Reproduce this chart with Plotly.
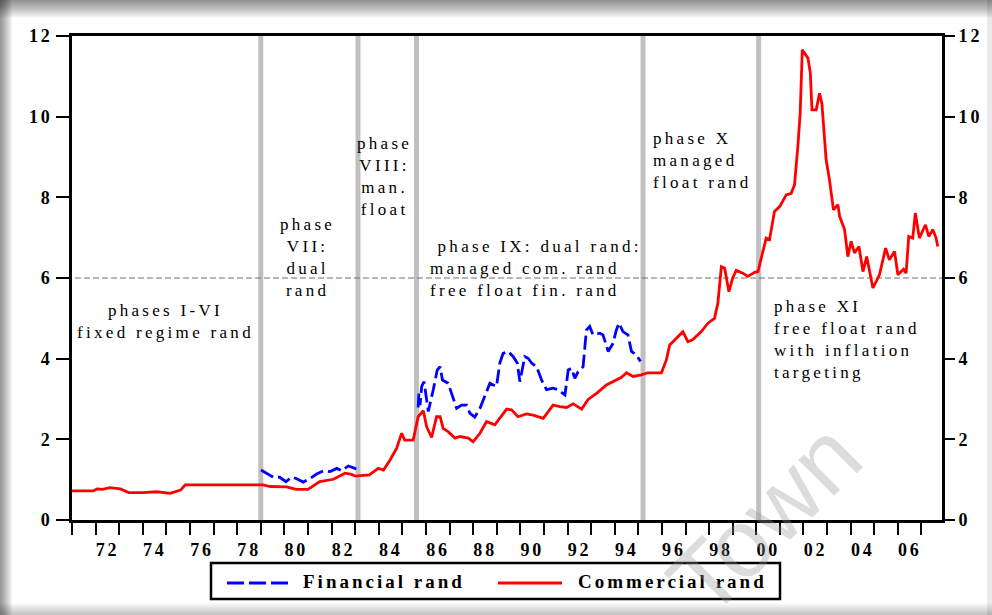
import plotly.graph_objects as go

# ---------------- data ----------------
comm_year = [1971.0, 1971.9, 1972.06, 1972.3, 1972.6, 1973.05, 1973.4, 1974.0, 1974.6, 1975.16,
             1975.6, 1975.8, 1979.1, 1979.4, 1980.1, 1980.5, 1981.0, 1981.3, 1981.5, 1982.08,
             1982.57, 1982.85, 1983.0, 1983.6, 1983.98, 1984.2, 1984.48, 1984.76, 1984.97, 1985.1,
             1985.46, 1985.67, 1985.89, 1986.03, 1986.24, 1986.45, 1986.6, 1986.73, 1986.94, 1987.23,
             1987.44, 1987.8, 1988.0, 1988.29, 1988.57, 1988.92, 1989.13, 1989.42, 1989.63, 1989.9,
             1990.26, 1990.54, 1990.97, 1991.39, 1991.67, 1991.96, 1992.24, 1992.6, 1992.87, 1993.23,
             1993.65, 1993.93, 1994.29, 1994.5, 1994.78, 1995.13, 1995.4, 1995.98, 1996.19, 1996.33,
             1996.61, 1996.89, 1997.1, 1997.3, 1997.67, 1997.95, 1998.23, 1998.37, 1998.52, 1998.66,
             1998.84, 1999.0, 1999.15, 1999.43, 1999.64, 1999.93, 2000.07, 2000.28, 2000.42, 2000.56,
             2000.77, 2000.99, 2001.27, 2001.48, 2001.62, 2001.76, 2001.86, 2001.95, 2002.19, 2002.29,
             2002.36, 2002.54, 2002.68, 2002.78, 2002.96, 2003.1, 2003.27, 2003.46, 2003.53, 2003.74,
             2003.88, 2004.02, 2004.16, 2004.35, 2004.52, 2004.68, 2004.94, 2005.22, 2005.48, 2005.64,
             2005.86, 2006.0, 2006.24, 2006.35, 2006.46, 2006.63, 2006.74, 2006.91, 2007.17, 2007.31,
             2007.48, 2007.62, 2007.69]
comm_rand = [0.72, 0.72, 0.77, 0.76, 0.80, 0.77, 0.68, 0.68, 0.70, 0.66,
             0.74, 0.87, 0.87, 0.83, 0.82, 0.76, 0.76, 0.88, 0.95, 1.01,
             1.16, 1.13, 1.09, 1.12, 1.28, 1.24, 1.49, 1.78, 2.15, 1.98,
             1.98, 2.56, 2.71, 2.31, 2.05, 2.56, 2.56, 2.27, 2.19, 2.03,
             2.07, 2.03, 1.94, 2.15, 2.44, 2.36, 2.52, 2.75, 2.73, 2.56,
             2.63, 2.60, 2.52, 2.85, 2.81, 2.79, 2.88, 2.75, 2.99, 3.14,
             3.35, 3.43, 3.54, 3.65, 3.56, 3.60, 3.65, 3.65, 3.97, 4.34,
             4.51, 4.67, 4.42, 4.47, 4.67, 4.88, 5.00, 5.37, 6.28, 6.24,
             5.66, 6.00, 6.19, 6.12, 6.04, 6.14, 6.16, 6.70, 6.99, 6.95,
             7.65, 7.77, 8.06, 8.10, 8.31, 9.26, 10.09, 11.66, 11.45, 11.08,
             10.17, 10.17, 10.58, 10.33, 8.93, 8.44, 7.69, 7.82, 7.53, 7.20,
             6.53, 6.91, 6.62, 6.78, 6.16, 6.53, 5.75, 6.08, 6.74, 6.45,
             6.66, 6.08, 6.22, 6.12, 7.03, 6.99, 7.61, 6.99, 7.32, 7.03,
             7.20, 6.99, 6.78]

fin_year = [1979.01, 1979.32, 1979.53, 1979.8, 1980.07, 1980.3, 1980.5, 1980.8, 1981.09, 1981.37,
            1981.65, 1981.94, 1982.22, 1982.43, 1982.71, 1982.99, 1983.05, None,
            1985.67, 1985.7, 1985.75, 1985.82, 1985.92, 1986.0, 1986.1, 1986.31, 1986.48, 1986.6,
            1986.7, 1986.94, 1987.16, 1987.3, 1987.51, 1987.72, 1987.86, 1988.07, 1988.29, 1988.5,
            1988.71, 1988.99, 1989.13, 1989.27, 1989.48, 1989.7, 1989.87, 1989.98, 1990.19, 1990.33,
            1990.48, 1990.69, 1990.9, 1991.11, 1991.39, 1991.6, 1991.89, 1992.03, 1992.17, 1992.31,
            1992.45, 1992.66, 1992.8, 1992.94, 1993.08, 1993.37, 1993.5, 1993.62, 1993.72, 1993.93,
            1994.07, 1994.18, 1994.35, 1994.56, 1994.71, 1994.92, 1995.09]
fin_rand = [1.24, 1.12, 1.06, 1.06, 0.95, 1.06, 1.03, 0.94, 1.03, 1.14,
            1.22, 1.20, 1.28, 1.22, 1.34, 1.28, 1.27, None,
            2.79, 3.14, 2.85, 3.31, 3.43, 3.06, 2.69, 3.23, 3.72, 3.80,
            3.47, 3.39, 2.98, 2.77, 2.85, 2.85, 2.65, 2.55, 2.77, 3.10,
            3.39, 3.31, 3.89, 4.13, 4.18, 4.05, 3.89, 3.43, 4.05, 4.01,
            3.89, 3.80, 3.47, 3.23, 3.27, 3.23, 3.10, 3.72, 3.76, 3.51,
            3.68, 3.80, 4.71, 4.80, 4.59, 4.63, 4.59, 4.38, 4.18, 4.38,
            4.71, 4.88, 4.67, 4.59, 4.18, 4.09, 3.93]

phase_breaks = [1979.0, 1983.12, 1985.6, 1995.2, 2000.1]
y_ticks = [0, 2, 4, 6, 8, 10, 12]
x_tick_years = list(range(1971, 2008))
x_label_text = {1972: "72", 1974: "74", 1976: "76", 1978: "78", 1980: "80", 1982: "82",
                1984: "84", 1986: "86", 1988: "88", 1990: "90", 1992: "92", 1994: "94",
                1996: "96", 1998: "98", 2000: "00", 2002: "02", 2004: "04", 2006: "06"}
series_names = ["Financial rand", "Commercial rand"]

# ---------------- layout geometry ----------------
W, H = 992, 615
L, R, T, B = 72, 50, 36, 95
PW, PH = W - L - R, H - T - B


def px(x):
    return (x - L) / PW


def py(y):
    return (H - B - y) / PH


SERIF = "Liberation Serif"


def sp(text, ls):
    return '<span style="letter-spacing:%spx">%s</span>' % (ls, text)


fig = go.Figure()
fig.add_trace(go.Scatter(x=comm_year, y=comm_rand, mode="lines", name=series_names[1],
                         line=dict(color="#ff0000", width=2.8), showlegend=False,
                         connectgaps=False))
fig.add_trace(go.Scatter(x=fin_year, y=fin_rand, mode="lines", name=series_names[0],
                         line=dict(color="#0000ff", width=2.8, dash="14px,5px"),
                         showlegend=False, connectgaps=False))
fig.add_trace(go.Scatter(x=[None], y=[None], yaxis="y2", showlegend=False, hoverinfo="skip"))

shapes = []
# phase boundaries
for b in phase_breaks:
    shapes.append(dict(type="line", xref="x", yref="paper", x0=b, x1=b, y0=0, y1=py(33),
                       line=dict(color="#c0c0c0", width=5), layer="below"))
# dashed reference line at 6
shapes.append(dict(type="line", xref="paper", yref="y", x0=px(57), x1=1.0, y0=6, y1=6,
                   line=dict(color="#707070", width=1.2, dash="6px,3px"), layer="below"))

# frame shadow
for i in range(18):
    shapes.append(dict(type="rect", xref="paper", yref="paper", x0=px(0), x1=px(W),
                       y0=py(i + 1), y1=py(0), line=dict(width=0),
                       fillcolor="rgba(0,0,0,0.028)", layer="above"))
for i in range(12):
    shapes.append(dict(type="rect", xref="paper", yref="paper", x0=px(0), x1=px(i + 1),
                       y0=py(H), y1=py(0), line=dict(width=0),
                       fillcolor="rgba(0,0,0,0.04)", layer="above"))
for i in range(12):
    shapes.append(dict(type="rect", xref="paper", yref="paper", x0=px(0), x1=px(W),
                       y0=py(H), y1=py(603 + i), line=dict(width=0),
                       fillcolor="rgba(0,0,0,0.018)", layer="above"))
shapes.append(dict(type="rect", xref="paper", yref="paper", x0=px(987), x1=px(W),
                   y0=py(H), y1=py(0), line=dict(width=0),
                   fillcolor="rgba(0,0,0,0.08)", layer="above"))

# legend box
shapes.append(dict(type="rect", xref="paper", yref="paper", x0=px(211), x1=px(780),
                   y0=py(599), y1=py(563), line=dict(color="black", width=2.5),
                   fillcolor="white", layer="above"))
shapes.append(dict(type="line", xref="paper", yref="paper", x0=px(227), x1=px(291),
                   y0=py(583), y1=py(583), line=dict(color="#0000ff", width=3, dash="17px,5px"),
                   layer="above"))
shapes.append(dict(type="line", xref="paper", yref="paper", x0=px(498), x1=px(562),
                   y0=py(583), y1=py(583), line=dict(color="#ff0000", width=3), layer="above"))

ann = []
TXT = dict(family=SERIF, size=17, color="black")


def add_text(lines, x, y, anchor="center", ls=3.3):
    ann.append(dict(text="<br>".join(sp(l, ls) for l in lines), xref="paper", yref="paper",
                    x=px(x), y=py(y), xanchor=anchor, yanchor="middle", align=anchor,
                    showarrow=False, font=TXT))


add_text(["phases I-VI", "fixed regime rand"], 165, 321)
add_text(["phase", "VII:", "dual", "rand"], 307, 257)
add_text(["phase", "VIII:", "man.", "float"], 384, 176)
add_text(["&nbsp;phase IX: dual rand:", "managed com. rand", "free float fin. rand"], 428, 268,
         anchor="left")
add_text(["phase X", "managed", "float rand"], 651, 160, anchor="left")
add_text(["phase XI", "free float rand", "with inflation", "targeting"], 772, 339, anchor="left")

LEGF = dict(family=SERIF, size=19, color="black", weight="bold")
ann.append(dict(text=sp(series_names[0], 3.0), xref="paper", yref="paper", x=px(301), y=py(581),
                xanchor="left", yanchor="middle", showarrow=False, font=LEGF))
ann.append(dict(text=sp(series_names[1], 3.0), xref="paper", yref="paper", x=px(576), y=py(581),
                xanchor="left", yanchor="middle", showarrow=False, font=LEGF))

# watermark
ann.append(dict(text="Town", xref="paper", yref="paper", x=px(764), y=py(518),
                xanchor="center", yanchor="middle", showarrow=False, textangle=-45,
                font=dict(family="Liberation Sans", size=96, color="rgba(150,150,150,0.33)")))

TICKF = dict(family=SERIF, size=18, color="black", weight="bold")
fig.update_layout(
    width=W, height=H, margin=dict(l=L, r=R, t=T, b=B),
    paper_bgcolor="white", plot_bgcolor="white",
    shapes=shapes, annotations=ann, showlegend=False,
    xaxis=dict(range=[1971.0, 2007.87], tickvals=x_tick_years,
               ticktext=[sp(x_label_text.get(v, ""), 2.8) for v in x_tick_years],
               ticklabelshift=12, ticks="outside", ticklen=12, tickwidth=1.8,
               tickcolor="black", showline=True, linecolor="black", linewidth=2.5,
               mirror=True, showgrid=False, zeroline=False, tickfont=TICKF),
    yaxis=dict(range=[0, 12], tickvals=y_ticks, ticktext=[sp(str(v), 2.8) for v in y_ticks],
               ticks="outside", ticklen=13, tickwidth=1.5, tickcolor="black",
               showline=True, linecolor="black", linewidth=2.5, mirror=True,
               showgrid=False, zeroline=False, tickfont=TICKF, automargin=False),
    yaxis2=dict(range=[0, 12], overlaying="y", side="right", tickvals=y_ticks,
                ticktext=[sp(str(v), 2.8) for v in y_ticks], ticks="outside", ticklen=12,
                tickwidth=1.5, tickcolor="black", showline=False, showgrid=False,
                zeroline=False, tickfont=TICKF, automargin=False),
)

fig.write_html("out.html", config={"displayModeBar": False},
               post_script="document.body.style.margin='0px';document.body.style.overflow='hidden';")
